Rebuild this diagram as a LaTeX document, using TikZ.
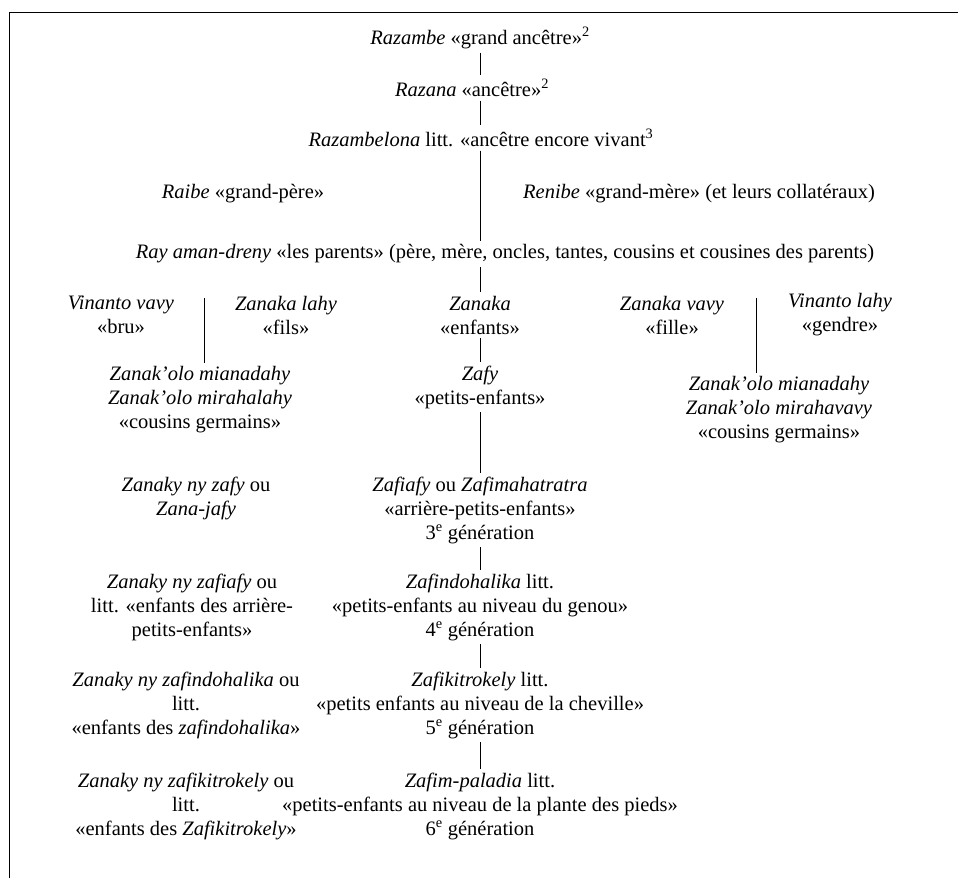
\documentclass[tikz,border=0pt]{standalone}
\usepackage{fontspec}
\setmainfont{Liberation Serif}
\usetikzlibrary{calc}
\begin{document}
\begin{tikzpicture}[x=1pt,y=1pt,
  txt/.style={align=center, inner sep=4pt, outer sep=0pt, font=\fontsize{20.5}{24}\selectfont},
  conn/.style={line width=0.9pt},
  frameline/.style={line width=1.3pt}]
\useasboundingbox (0,0) rectangle (958,-878);
\draw[frameline] (9.5,-878) -- (9.5,-12.5) -- (958,-12.5);

\node[txt] (razambe) at (480,-38) {\textit{Razambe} «grand ancêtre»\textsuperscript{2}};
\node[txt] (razana) at (472,-88) {\textit{Razana} «ancêtre»\textsuperscript{2}};
\node[txt] (razambelona) at (481,-138) {\textit{Razambelona} litt. «ancêtre encore vivant\textsuperscript{3}};
\node[txt] (raibe) at (243,-194) {\textit{Raibe} «grand-père»};
\node[txt] (renibe) at (699,-194) {\textit{Renibe} «grand-mère» (et leurs collatéraux)};
\node[txt] (ray) at (505,-254) {\textit{Ray aman-dreny} «les parents» (père, mère, oncles, tantes, cousins et cousines des parents)};

\node[txt] (vvavy) at (121,-315) {\textit{Vinanto vavy}\\«bru»};
\node[txt] (zlahy) at (286,-315) {\textit{Zanaka lahy}\\«fils»};
\node[txt] (zanaka) at (480,-315) {\textit{Zanaka}\\«enfants»};
\node[txt] (zvavy) at (672,-315) {\textit{Zanaka vavy}\\«fille»};
\node[txt] (vlahy) at (840,-315) {\textit{Vinanto lahy}\\«gendre»};

\node[txt] (zoleft) at (200,-400) {\textit{Zanak'olo mianadahy}\\\textit{Zanak'olo mirahalahy}\\«cousins germains»};
\node[txt] (zafy) at (480,-387) {\textit{Zafy}\\«petits-enfants»};
\node[txt] (zoright) at (779,-410) {\textit{Zanak'olo mianadahy}\\\textit{Zanak'olo mirahavavy}\\«cousins germains»};

\node[txt] (nyzafy) at (196,-498) {\textit{Zanaky ny zafy} ou\\\textit{Zana-jafy}};
\node[txt] (zafiafy) at (480,-510) {\textit{Zafiafy} ou \textit{Zafimahatratra}\\«arrière-petits-enfants»\\3\textsuperscript{e} génération};

\node[txt] (nyzafiafy) at (192,-607) {\textit{Zanaky ny zafiafy} ou\\litt. «enfants des arrière-\\petits-enfants»};
\node[txt] (zafindo) at (480,-607) {\textit{Zafindohalika} litt.\\«petits-enfants au niveau du genou»\\4\textsuperscript{e} génération};

\node[txt] (nyzafindo) at (186,-705) {\textit{Zanaky ny zafindohalika} ou\\litt.\\«enfants des \textit{zafindohalika}»};
\node[txt] (zafiki) at (480,-705) {\textit{Zafikitrokely} litt.\\«petits enfants au niveau de la cheville»\\5\textsuperscript{e} génération};

\node[txt] (nyzafiki) at (186,-806) {\textit{Zanaky ny zafikitrokely} ou\\litt.\\«enfants des \textit{Zafikitrokely}»};
\node[txt] (zafim) at (480,-806) {\textit{Zafim-paladia} litt.\\«petits-enfants au niveau de la plante des pieds»\\6\textsuperscript{e} génération};

% connectors
\coordinate (axis) at (razambe.south);
\draw[conn] (axis |- razambe.south) -- (axis |- razana.north);
\draw[conn] (axis |- razana.south) -- (axis |- razambelona.north);
\draw[conn] (axis |- razambelona.south) -- (axis |- ray.north);
\draw[conn] (axis |- ray.south) -- (axis |- zanaka.north);
\draw[conn] (axis |- zanaka.south) -- (axis |- zafy.north);
\draw[conn] (axis |- zafy.south) -- (axis |- zafiafy.north);
\draw[conn] (axis |- zafiafy.south) -- (axis |- zafindo.north);
\draw[conn] (axis |- zafindo.south) -- (axis |- zafiki.north);
\draw[conn] (axis |- zafiki.south) -- (axis |- zafim.north);

\coordinate (lm) at ($(vvavy.east)!0.5!(zlahy.west)$);
\draw[conn] ($(lm |- vvavy.north)+(0,-6)$) -- (lm |- zoleft.north);
\coordinate (rm) at ($(zvavy.east)!0.5!(vlahy.west)$);
\draw[conn] ($(rm |- zvavy.north)+(0,-6)$) -- (rm |- zoright.north);
\end{tikzpicture}
\end{document}
